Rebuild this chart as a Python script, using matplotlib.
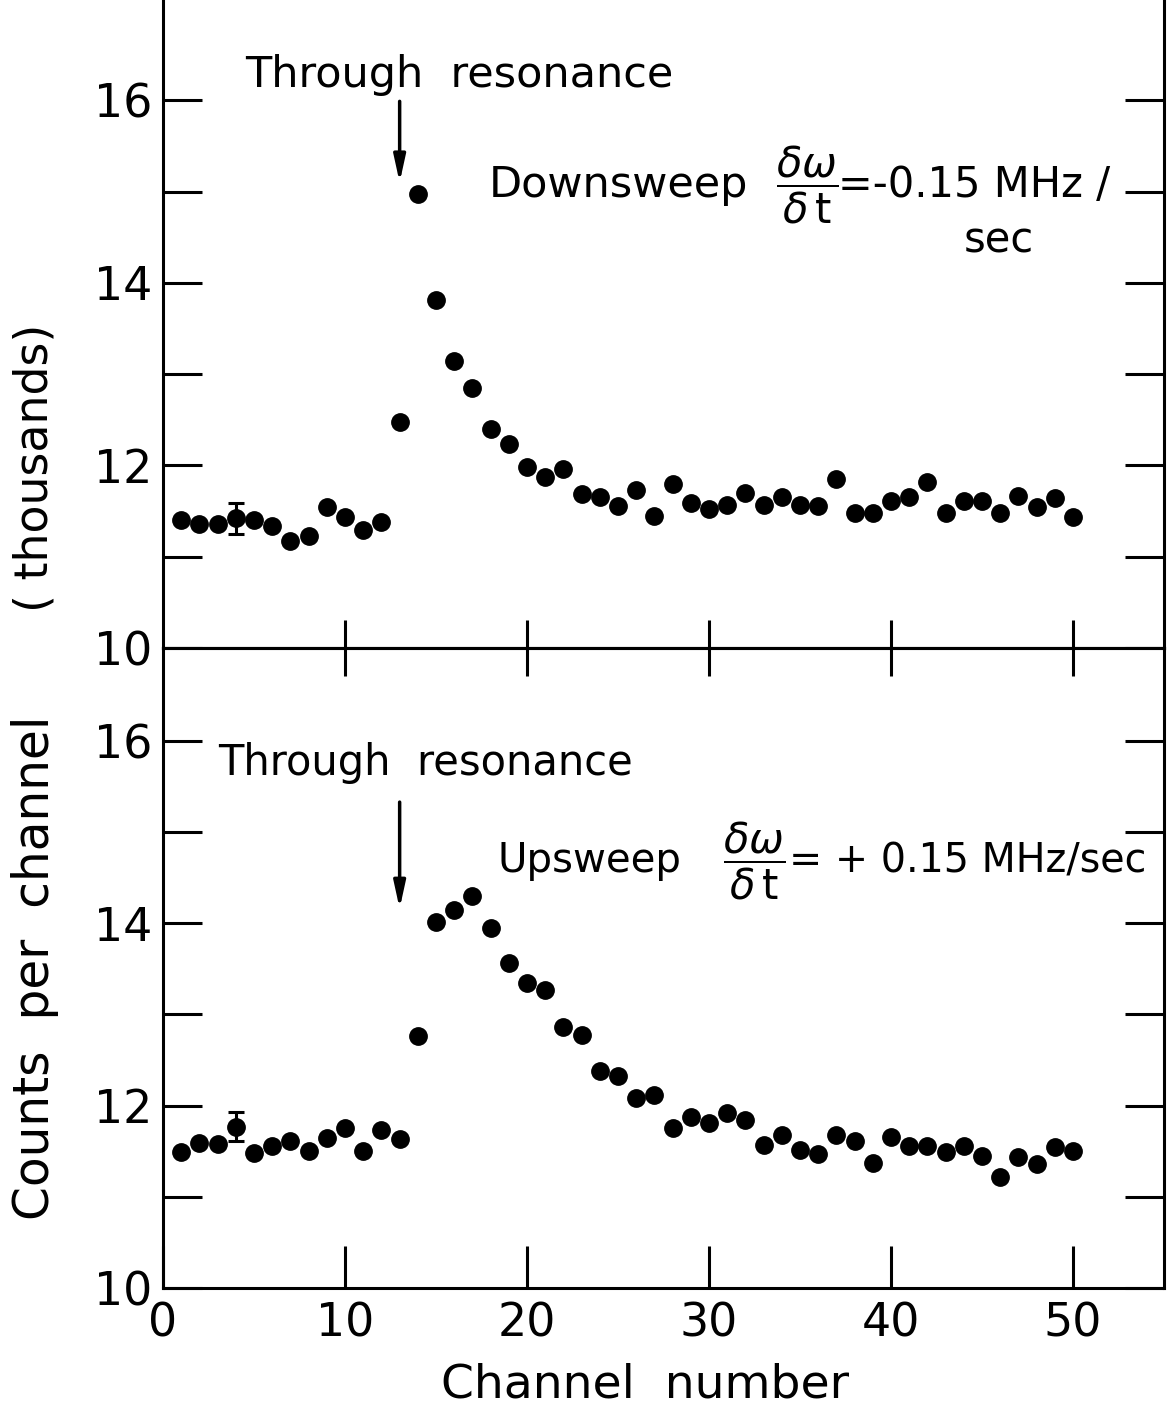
import numpy as np
import matplotlib
matplotlib.use('Agg')
import matplotlib.pyplot as plt
from matplotlib.ticker import FixedLocator

plt.rcParams['font.family'] = ['DejaVu Sans']
plt.rcParams['mathtext.fontset'] = 'dejavusans'

# Channel numbers 1..50
channels = list(range(1, 51))

# Downsweep counts per channel (thousands)
down_counts = [11.40, 11.36, 11.36, 11.42, 11.40, 11.34, 11.17, 11.23, 11.55, 11.44,
               11.29, 11.38, 12.48, 14.97, 13.81, 13.15, 12.85, 12.40, 12.24, 11.98,
               11.87, 11.96, 11.69, 11.65, 11.56, 11.73, 11.45, 11.80, 11.59, 11.52,
               11.57, 11.70, 11.57, 11.65, 11.57, 11.56, 11.85, 11.48, 11.48, 11.61,
               11.65, 11.82, 11.48, 11.61, 11.61, 11.48, 11.67, 11.54, 11.64, 11.43]

# Upsweep counts per channel (thousands)
up_counts = [11.49, 11.59, 11.58, 11.77, 11.48, 11.56, 11.61, 11.50, 11.65, 11.76,
             11.50, 11.73, 11.63, 12.76, 14.01, 14.15, 14.30, 13.95, 13.56, 13.34,
             13.27, 12.86, 12.78, 12.38, 12.33, 12.08, 12.12, 11.75, 11.87, 11.81,
             11.92, 11.84, 11.57, 11.68, 11.51, 11.47, 11.68, 11.61, 11.37, 11.66,
             11.56, 11.56, 11.49, 11.56, 11.45, 11.22, 11.44, 11.36, 11.55, 11.50]

# one representative error bar (channel 4)
err_channel = 4
down_err = 0.17
up_err = 0.16

resonance_channel = 13

fig = plt.figure(figsize=(11.68, 14.09), dpi=100)
ax_top = fig.add_axes([0.1396, 0.5401, 0.857, 0.4599])
ax_bot = fig.add_axes([0.1396, 0.0859, 0.857, 0.4542])

lw = 2.2
for ax in (ax_top, ax_bot):
    ax.set_xlim(0, 55)
    ax.yaxis.set_major_locator(FixedLocator([10, 12, 14, 16]))
    ax.yaxis.set_minor_locator(FixedLocator([11, 13, 15]))
    ax.tick_params(axis='y', which='both', direction='in', length=28,
                   width=2.2, right=True, labelsize=33, pad=8)
    for s in ax.spines.values():
        s.set_linewidth(lw)

ax_top.set_ylim(10, 17.1)
ax_bot.set_ylim(10, 17.02)
ax_top.spines['top'].set_visible(False)

# x ticks: short ones across the panel boundary, longer on the bottom axis
ax_top.set_xticks([10, 20, 30, 40, 50])
ax_top.tick_params(axis='x', direction='in', length=20, width=2.2, labelbottom=False)
ax_bot.set_xticks([0, 10, 20, 30, 40, 50])
ax_bot.tick_params(axis='x', direction='in', length=30, width=2.2, labelsize=33, pad=10)
sec = ax_bot.secondary_xaxis('top')
sec.set_xticks([10, 20, 30, 40, 50])
sec.tick_params(axis='x', direction='in', length=20, width=2.2, labeltop=False)
sec.spines['top'].set_linewidth(lw)

# Data points
ax_top.plot(channels, down_counts, 'o', color='black', ms=12.5)
ax_bot.plot(channels, up_counts, 'o', color='black', ms=12.5)
ax_top.errorbar(err_channel, down_counts[err_channel - 1], yerr=down_err,
                fmt='none', ecolor='black', elinewidth=2.2, capsize=6, capthick=2.2)
ax_bot.errorbar(err_channel, up_counts[err_channel - 1], yerr=up_err,
                fmt='none', ecolor='black', elinewidth=2.2, capsize=6, capthick=2.2)

arrow = dict(arrowstyle='-|>,head_length=1.6,head_width=0.35', color='black', lw=2.5)
frac = r'$\dfrac{\delta\omega}{\delta\,\mathrm{t}}$'

# Annotations, top panel
ax_top.text(4.5, 16.28, 'Through  resonance', fontsize=31, va='center', ha='left')
ax_top.annotate('', xy=(resonance_channel, 15.07), xytext=(resonance_channel, 16.02),
                arrowprops=arrow)
ax_top.text(17.9, 15.07, 'Downsweep', fontsize=31, va='center', ha='left')
ax_top.text(35.4, 15.07, frac, fontsize=30, va='center', ha='center')
ax_top.text(37.1, 15.07, '=-0.15 MHz /', fontsize=30, va='center', ha='left')
ax_top.text(45.9, 14.47, 'sec', fontsize=30, va='center', ha='center')

# Annotations, bottom panel
ax_bot.text(3.0, 15.76, 'Through  resonance', fontsize=30, va='center', ha='left')
ax_bot.annotate('', xy=(resonance_channel, 14.13), xytext=(resonance_channel, 15.36),
                arrowprops=arrow)
ax_bot.text(18.4, 14.68, 'Upsweep', fontsize=29, va='center', ha='left')
ax_bot.text(32.5, 14.68, frac, fontsize=30, va='center', ha='center')
ax_bot.text(34.4, 14.68, '= + 0.15 MHz/sec', fontsize=28.5, va='center', ha='left')

# Axis labels
fig.text(0.030, 0.668, '( thousands)', rotation=90, fontsize=33, va='center', ha='center')
fig.text(0.030, 0.313, 'Counts  per  channel', rotation=90, fontsize=35,
         va='center', ha='center')
fig.text(0.552, 0.017, 'Channel  number', fontsize=34, va='center', ha='center')

fig.savefig('out.png', dpi=100, facecolor='white')
